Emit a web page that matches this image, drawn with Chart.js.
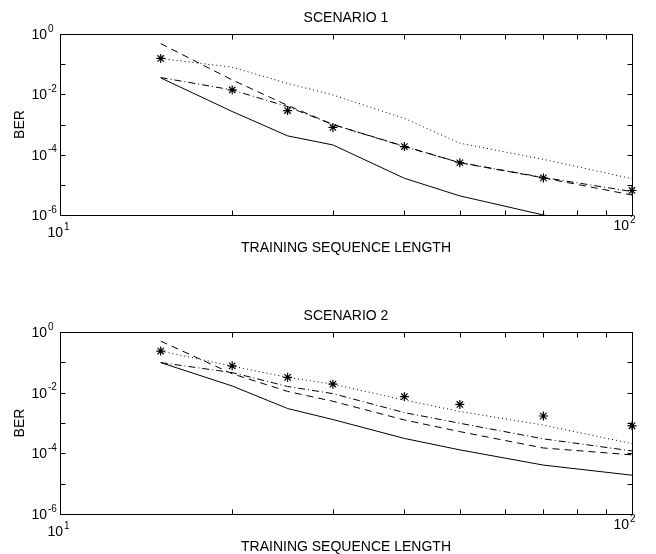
<!DOCTYPE html>
<html>
  <head>
    <meta charset="utf-8" />
    <title>BER vs training sequence length</title>
    <script src="https://cdn.jsdelivr.net/npm/chart.js"></script>
    <style>
      body { margin: 0; background: #fff; }
      canvas { display: block; }
    </style>
  </head>
  <body>
    <canvas id="scenario1" width="656" height="277"></canvas>
    <canvas id="scenario2" width="656" height="277"></canvas>

    <script>
      // training sequence lengths (x axis)
      const trainingLength = [15, 20, 25, 30, 40, 50, 70, 100];

      // scenario 1 BER curves
      const s1Solid = [0.035, 0.0027, 4.2e-4, 2.1e-4, 1.65e-5, 4.3e-6, 1.0e-6, 3e-7];
      const s1Dashed = [0.48, 0.030, 4.3e-3, 1.0e-3, 1.9e-4, 5.4e-5, 1.7e-5, 4.6e-6];
      const s1DashDot = [0.036, 0.014, 3.9e-3, 1.0e-3, 1.85e-4, 5.5e-5, 1.75e-5, 6.0e-6];
      const s1Dotted = [0.155, 0.079, 0.023, 0.0095, 1.6e-3, 2.4e-4, 7e-5, 1.6e-5];
      const s1Stars = [0.155, 0.014, 2.9e-3, 8.0e-4, 1.85e-4, 5.4e-5, 1.7e-5, 6.5e-6];

      // scenario 2 BER curves
      const s2Solid = [0.098, 0.0166, 3.0e-3, 1.3e-3, 3.1e-4, 1.3e-4, 4.1e-5, 1.9e-5];
      const s2Dashed = [0.5, 0.042, 0.011, 5.2e-3, 1.26e-3, 5.2e-4, 1.5e-4, 8.9e-5];
      const s2DashDot = [0.098, 0.046, 0.016, 9.3e-3, 2.2e-3, 9.8e-4, 3.0e-4, 1.2e-4];
      const s2Dotted = [0.235, 0.075, 0.032, 0.019, 5.7e-3, 2.4e-3, 8.5e-4, 2.1e-4];
      const s2Stars = [0.235, 0.077, 0.032, 0.019, 7.4e-3, 4.1e-3, 1.7e-3, 8.1e-4];

      // text and ticks
      const titles = ["SCENARIO 1", "SCENARIO 2"];
      const xAxisLabel = "TRAINING SEQUENCE LENGTH";
      const yAxisLabel = "BER";
      const xTickValues = [10, 100];
      const xTickExps = ["1", "2"];
      const yTickValues = [1, 1e-2, 1e-4, 1e-6];
      const yTickExps = ["0", "-2", "-4", "-6"];
      const xMinorTicks = [20, 30, 40, 50, 60, 70, 80, 90];
      const yMinorTicks = [1e-1, 1e-2, 1e-3, 1e-4, 1e-5];

      const FONT = '"Liberation Sans", Arial, Helvetica, sans-serif';

      function points(ys) {
        return trainingLength.map(function (x, i) {
          return { x: x, y: ys[i] };
        });
      }

      // frame, inward ticks and matlab-style labels
      const axesPlugin = {
        id: "matlabAxes",
        afterDraw: function (chart) {
          const ctx = chart.ctx;
          const a = chart.chartArea;
          const xs = chart.scales.x;
          const ys = chart.scales.y;
          const L = Math.round(a.left) + 0.5, R = Math.round(a.right) + 0.5;
          const T = Math.round(a.top) + 0.5, B = Math.round(a.bottom) + 0.5;
          ctx.save();
          ctx.strokeStyle = "#000";
          ctx.lineWidth = 1;
          ctx.setLineDash([]);
          ctx.strokeRect(L, T, R - L, B - T);

          ctx.beginPath();
          xMinorTicks.forEach(function (v) {
            const px = Math.round(xs.getPixelForValue(v)) + 0.5;
            ctx.moveTo(px, B); ctx.lineTo(px, B - 5);
            ctx.moveTo(px, T); ctx.lineTo(px, T + 5);
          });
          yMinorTicks.forEach(function (v) {
            const py = Math.round(ys.getPixelForValue(v)) + 0.5;
            ctx.moveTo(L, py); ctx.lineTo(L + 5, py);
            ctx.moveTo(R, py); ctx.lineTo(R - 5, py);
          });
          ctx.stroke();

          ctx.fillStyle = "#000";
          // y tick labels
          yTickValues.forEach(function (v, i) {
            const py = ys.getPixelForValue(v);
            ctx.font = "14px " + FONT;
            ctx.textAlign = "right";
            ctx.textBaseline = "middle";
            ctx.fillText("10", a.left - 13, py + 1);
            ctx.font = "10px " + FONT;
            ctx.textAlign = "left";
            ctx.fillText(yTickExps[i], a.left - 12, py - 5);
          });
          // x tick labels
          const xdx = [3, -3];
          const xdy = [18, 11];
          xTickValues.forEach(function (v, i) {
            const px = xs.getPixelForValue(v) + xdx[i];
            ctx.font = "14px " + FONT;
            ctx.textAlign = "right";
            ctx.textBaseline = "middle";
            ctx.fillText("10", px, a.bottom + xdy[i]);
            ctx.font = "10px " + FONT;
            ctx.textAlign = "left";
            ctx.fillText(xTickExps[i], px + 1, a.bottom + xdy[i] - 6);
          });

          // titles
          ctx.font = "14px " + FONT;
          ctx.textAlign = "center";
          ctx.textBaseline = "middle";
          const cx = (a.left + a.right) / 2;
          ctx.fillText(chart.options.plugins.matlabAxes.title, cx, a.top - 16);
          ctx.fillText(xAxisLabel, cx, a.bottom + 33);
          ctx.translate(20, (a.top + a.bottom) / 2);
          ctx.rotate(-Math.PI / 2);
          ctx.fillText(yAxisLabel, 0, 0);
          ctx.restore();
        },
      };

      function makeChart(id, title, solid, dashed, dashDot, dotted, stars, pad) {
        const line = function (ys, dash) {
          return {
            data: points(ys),
            borderColor: "#000",
            borderWidth: 1,
            borderDash: dash,
            pointRadius: 0,
            fill: false,
            tension: 0,
          };
        };
        return new Chart(document.getElementById(id), {
          type: "line",
          data: {
            datasets: [
              line(solid, []),
              line(dashed, [7, 5]),
              line(dashDot, [7, 3, 1, 3]),
              line(dotted, [1, 3]),
              {
                data: points(stars),
                showLine: false,
                pointStyle: "star",
                pointRadius: 4.5,
                borderColor: "#000",
                backgroundColor: "#000",
                pointBorderWidth: 1.2,
                clip: false,
              },
            ],
          },
          options: {
            responsive: false,
            devicePixelRatio: 1,
            animation: false,
            events: [],
            layout: { padding: pad },
            plugins: {
              legend: { display: false },
              tooltip: { enabled: false },
              matlabAxes: { title: title },
            },
            scales: {
              x: { type: "logarithmic", min: 10, max: 100, display: false },
              y: { type: "logarithmic", min: 1e-6, max: 1, display: false },
            },
          },
          plugins: [axesPlugin],
        });
      }

      makeChart("scenario1", titles[0], s1Solid, s1Dashed, s1DashDot, s1Dotted, s1Stars,
        { left: 60, right: 24, top: 34, bottom: 62 });
      makeChart("scenario2", titles[1], s2Solid, s2Dashed, s2DashDot, s2Dotted, s2Stars,
        { left: 60, right: 24, top: 55, bottom: 40 });
    </script>
  </body>
</html>
